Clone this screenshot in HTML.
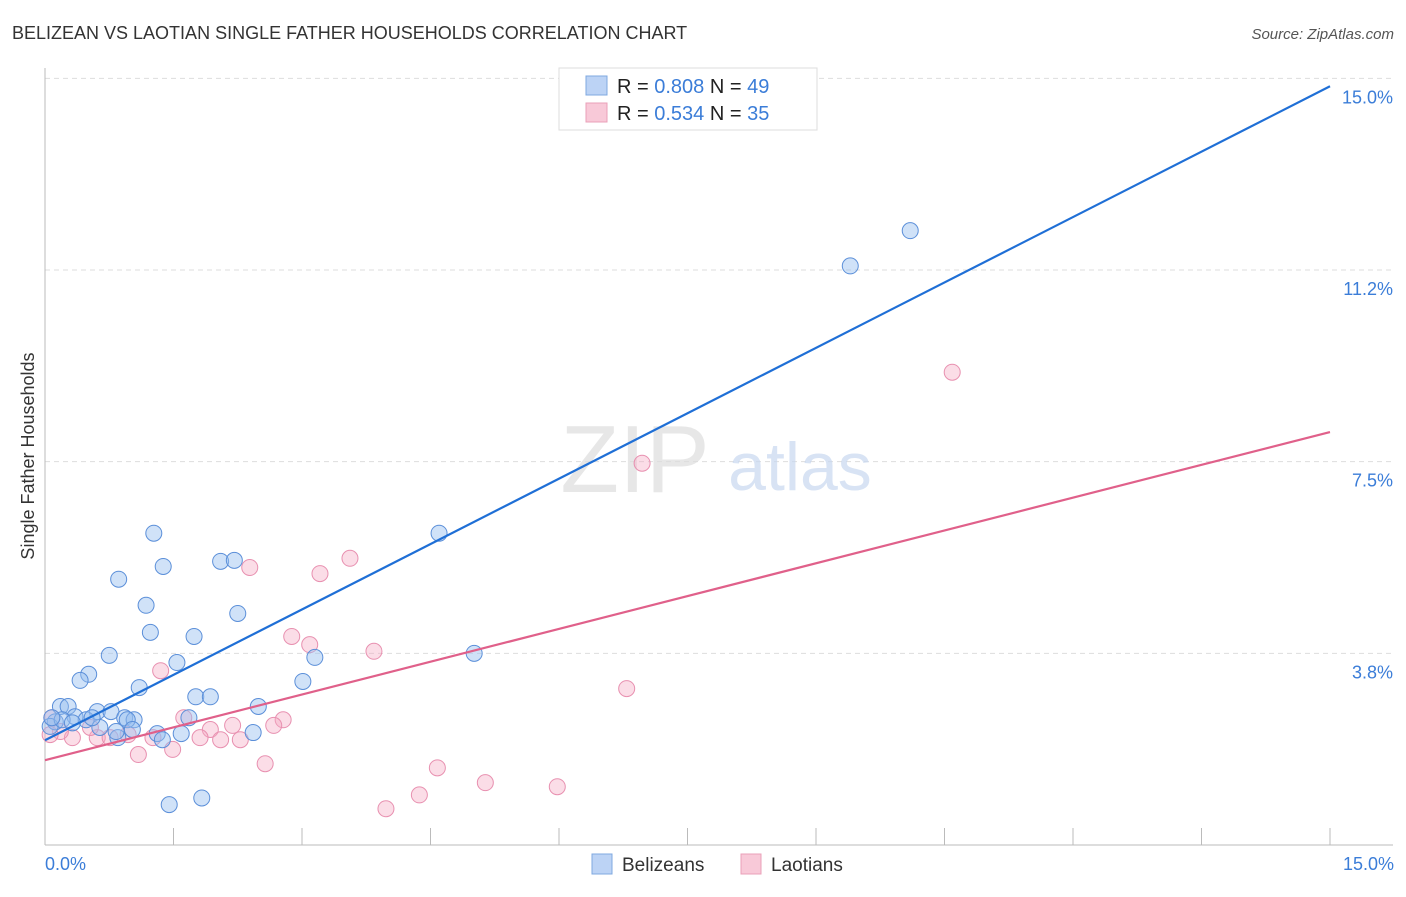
<!DOCTYPE html>
<html><head><meta charset="utf-8"><style>
body{margin:0;background:#fff;font-family:"Liberation Sans",sans-serif;}
svg text{font-family:"Liberation Sans",sans-serif;}
</style></head><body>
<svg id="chart" width="1406" height="892" viewBox="0 0 1406 892">
<text x="12" y="39" font-size="18" fill="#333">BELIZEAN VS LAOTIAN SINGLE FATHER HOUSEHOLDS CORRELATION CHART</text>
<text x="1394" y="39" font-size="15" fill="#555" font-style="italic" text-anchor="end">Source: ZipAtlas.com</text>
<g id="grid"></g>
<g>
<text x="635" y="492" font-size="96" fill="#ddd" text-anchor="middle" font-family="Liberation Serif" opacity="0.7">ZIP</text>
<text x="800" y="490" font-size="68" fill="#c8d8f0" text-anchor="middle" opacity="0.7">atlas</text>
</g>
<line x1="45" y1="68" x2="45" y2="845" stroke="#bbb"/>
<line x1="45" y1="845" x2="1393" y2="845" stroke="#bbb"/>
<g id="xticks"></g>
<g id="ylabels"></g>
<text x="45" y="870" font-size="18" fill="#3b7dd8">0.0%</text>
<text x="1394" y="870" font-size="18" fill="#3b7dd8" text-anchor="end">15.0%</text>
<text x="34" y="456" font-size="18" fill="#333" text-anchor="middle" transform="rotate(-90 34 456)">Single Father Households</text>
<g id="points"></g>
<g id="trends"></g>
<g>
<rect x="559" y="68" width="258" height="62" fill="#fff" stroke="#ddd"/>
<rect x="586" y="76" width="21" height="19" fill="#bcd3f5" stroke="#7fa8e0"/>
<rect x="586" y="103" width="21" height="19" fill="#f8c9d8" stroke="#eaa0b8"/>
<text x="617" y="93" font-size="20" fill="#222">R = <tspan fill="#3b7dd8">0.808</tspan>   N = <tspan fill="#3b7dd8">49</tspan></text>
<text x="617" y="120" font-size="20" fill="#222">R = <tspan fill="#3b7dd8">0.534</tspan>   N = <tspan fill="#3b7dd8">35</tspan></text>
</g>
<g>
<rect x="592" y="854" width="20" height="20" fill="#bcd3f5" stroke="#7fa8e0"/>
<text x="622" y="871" font-size="19" fill="#333">Belizeans</text>
<rect x="741" y="854" width="20" height="20" fill="#f8c9d8" stroke="#eaa0b8"/>
<text x="771" y="871" font-size="19" fill="#333">Laotians</text>
</g>
</svg>
<script>
const yTicks=[3.75,7.5,11.25,15];
const yTickLabels=["3.8%","7.5%","11.2%","15.0%"];
const xTicks=[1.5,3,4.5,6,7.5,9,10.5,12,13.5,15];
const belizeX=[1.27,1.38,0.86,1.18,1.23,0.75,0.51,0.41,1.10,1.54,1.74,2.05,2.21,2.25,1.76,1.93,2.49,2.43,3.01,3.15,4.60,5.01,1.45,1.83,9.40,10.10,0.18,0.27,0.35,0.61,0.77,0.93,1.04,0.96,0.48,0.64,0.85,0.83,1.02,1.31,1.37,1.59,1.68,0.12,0.06,0.20,0.32,0.55,0.08];
const belizeY=[6.10,5.45,5.20,4.69,4.16,3.71,3.34,3.22,3.08,3.57,4.08,5.55,5.57,4.53,2.90,2.90,2.71,2.20,3.20,3.67,6.10,3.75,0.79,0.92,11.33,12.02,2.71,2.71,2.51,2.61,2.61,2.49,2.45,2.45,2.45,2.30,2.10,2.22,2.26,2.18,2.06,2.18,2.49,2.41,2.32,2.45,2.39,2.49,2.49];
const laoX=[10.59,6.97,3.56,2.39,3.21,2.88,3.09,3.84,6.79,1.35,1.62,2.78,2.67,2.19,1.93,1.81,2.05,2.28,1.09,1.49,2.57,4.58,5.14,5.98,4.37,3.98,1.26,0.97,0.61,0.76,0.32,0.18,0.06,0.08,0.53];
const laoY=[9.25,7.47,5.61,5.43,5.31,4.08,3.92,3.79,3.06,3.41,2.49,2.45,2.34,2.34,2.26,2.10,2.06,2.06,1.77,1.87,1.59,1.51,1.22,1.14,0.98,0.71,2.10,2.16,2.10,2.10,2.10,2.22,2.16,2.49,2.30];
const belizeTrend=[2.05,0.853];
const laoTrend=[1.66,0.428];
const NS="http://www.w3.org/2000/svg";
const sx=v=>45+v*(1330-45)/15;
const sy=v=>845-v*51.11;
function mk(tag,attrs,parent){const e=document.createElementNS(NS,tag);for(const k in attrs)e.setAttribute(k,attrs[k]);document.getElementById(parent).appendChild(e);return e;}
yTicks.forEach((t,i)=>{
 const g=mk('line',{x1:45,x2:1393,y1:sy(t),y2:sy(t),stroke:'#ddd','stroke-dasharray':'5,4'},'grid');
 
 
 const l=mk('text',{x:1393,y:sy(t)+25,'font-size':18,fill:'#3b7dd8','text-anchor':'end'},'ylabels');
 l.textContent=yTickLabels[i];
 
 
});
xTicks.forEach(t=>{
 const l=mk('line',{x1:sx(t),x2:sx(t),y1:828,y2:845,stroke:'#bbb'},'xticks');
 
 
});
laoX.forEach((x,i)=>{
 const c=mk('circle',{cx:sx(x),cy:sy(laoY[i]),r:8,fill:'rgba(245,170,195,0.4)',stroke:'#e890b0','stroke-width':1},'points');
 
 
});
belizeX.forEach((x,i)=>{
 const c=mk('circle',{cx:sx(x),cy:sy(belizeY[i]),r:8,fill:'rgba(150,190,240,0.45)',stroke:'#5b8fd9','stroke-width':1},'points');
 
 
});
const bl=mk('line',{x1:sx(0),y1:sy(belizeTrend[0]),x2:sx(15),y2:sy(belizeTrend[0]+15*belizeTrend[1]),stroke:'#1f6fd6','stroke-width':2.2},'trends');


const pl=mk('line',{x1:sx(0),y1:sy(laoTrend[0]),x2:sx(15),y2:sy(laoTrend[0]+15*laoTrend[1]),stroke:'#e0608a','stroke-width':2.2},'trends');


</script>
</body></html>
